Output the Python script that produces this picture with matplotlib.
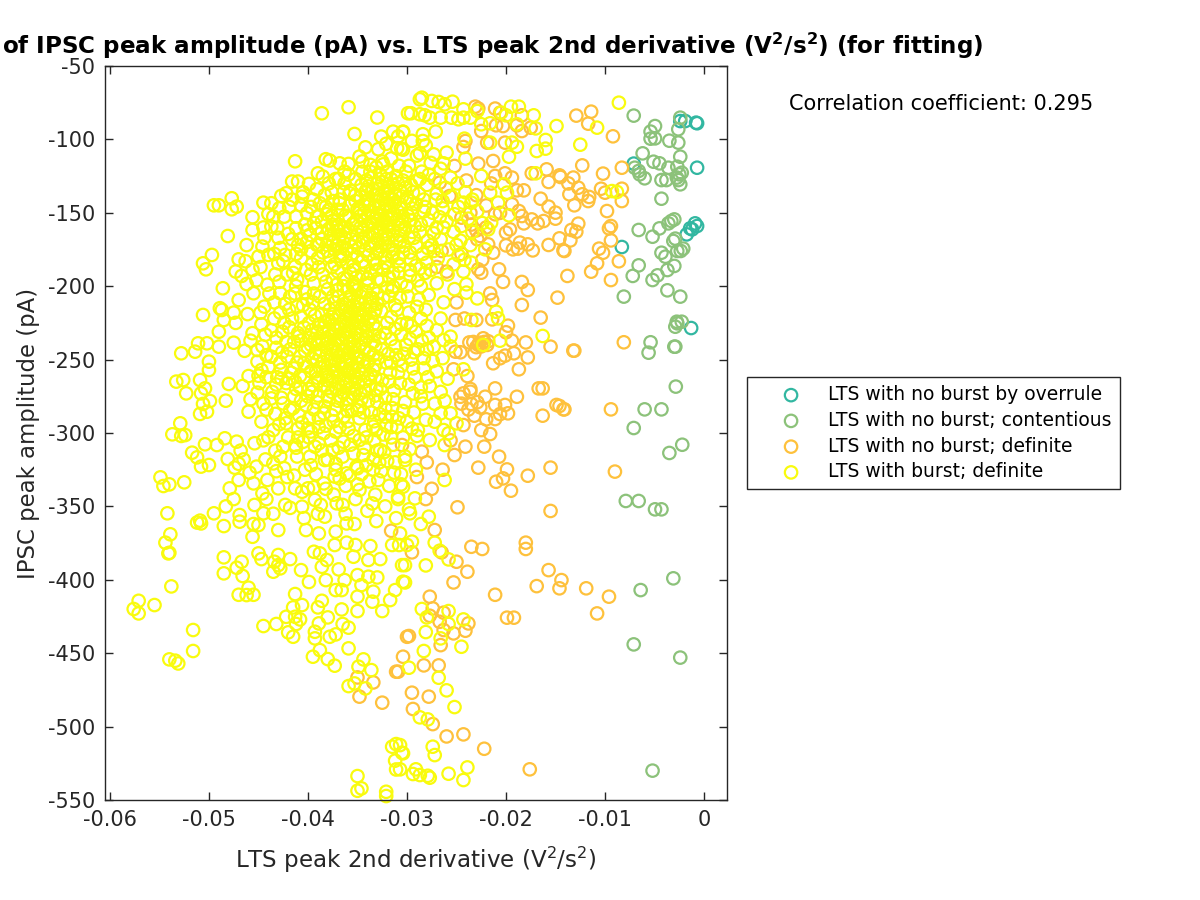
import numpy as np
import matplotlib
matplotlib.use("Agg")
import matplotlib.pyplot as plt

# points are (x * 1000, y)
overrule_pts = [(-2.4,-87.5),(-1.9,-87.5),(-0.8,-88.6),(-0.7,-89),(-0.7,-119.3),(-7.1,-116.5),(-8.3,-173.3),
    (-1.75,-164.7),(-1.4,-160.6),(-0.9,-157.2),(-0.7,-159),(-1.2,-161.3),(-1.3,-228.5)]

contentious_pts = [(-7.1,-83.8),(-2.4,-85.2),(-4.95,-90.9),(-2.6,-93.1),(-5.4,-94.7),(-5.4,-99.5),(-4.95,-99.3),
    (-3.5,-100.9),(-2.6,-102.2),(-6.2,-109.5),(-2.4,-111.8),(-5.1,-115.2),(-4.5,-116.3),(-3.6,-119.3),(-2.7,-118.6),
    (-7.0,-119.3),(-6.6,-121.5),(-6.5,-123.8),(-6.0,-126.5),(-4.3,-127.7),(-3.8,-127.7),(-2.25,-122.7),(-2.5,-123.8),
    (-2.75,-126),(-2.6,-127.7),(-2.4,-130.6),(-4.3,-140.4),(-3.0,-154.5),(-3.3,-155.6),(-3.6,-157.2),(-4.5,-160.6),
    (-6.6,-161.7),(-5.2,-166.3),(-2.9,-167.6),(-3.1,-169.2),(-2.1,-174.4),(-2.7,-176),(-2.35,-176),(-4.3,-177.2),
    (-3.9,-179.9),(-3.0,-186.2),(-6.6,-185.8),(-3.7,-189),(-4.7,-192.6),(-5.2,-195.8),(-7.2,-193),(-3.7,-202.8),
    (-2.4,-207.1),(-8.1,-207.1),(-2.25,-224.2),(-2.75,-224.2),(-2.7,-225.3),(-2.9,-227.6),(-5.4,-238.2),(-5.6,-245.3),
    (-2.9,-241.2),(-3.0,-241.2),(-2.85,-268.4),(-6.0,-283.9),(-4.3,-283.9),(-7.1,-296.6),(-2.2,-308),(-3.5,-313.6),
    (-7.9,-346.3),(-6.6,-346.3),(-4.95,-352),(-4.3,-352),(-6.4,-407),(-3.1,-399),(-7.1,-444),(-2.4,-453),(-5.2,-530)]

definite_pts = [(-11.4,-81.1),(-12.9,-83.8),(-11.7,-89.3),(-9.2,-97.9),(-12.3,-117.7),(-8.3,-119.3),(-10.2,-123.3),
    (-14.5,-125.6),(-13.2,-126),(-13.7,-130),(-12.7,-132.9),(-13.6,-137.4),(-10.4,-133.6),(-10,-136.3),(-8.3,-133.6),
    (-8.3,-142),(-12.3,-137.4),(-11.6,-139.2),(-11.7,-142),(-13.1,-144.9),(-9.8,-148.8),(-9.4,-159),(-9.6,-160.6),
    (-12.7,-157.4),(-13.4,-161.7),(-12.9,-162.9),(-13.5,-168.8),(-9.4,-168.8),(-10.6,-174.4),(-10.2,-177.2),(-14.1,-176),
    (-10.8,-184.4),(-8.6,-183),(-11.4,-190.1),(-13.8,-193),(-9.4,-195.8),(-13.2,-243.9),(-8.1,-238.2),(-9.4,-283.9),
    (-14.1,-283.9),(-14.6,-281.6),(-9.0,-326.3),
    (-23.1,-77.7),(-22.8,-79),(-21.1,-79),(-20.6,-81.8),(-18.4,-83.6),(-18.9,-90.4),(-20.3,-90.9),(-21,-90.4),
    (-22.5,-94.3),(-18.4,-94.3),(-17.5,-92),(-24.1,-101.1),(-24.3,-105.2),(-21.9,-102.2),(-20.1,-102.2),(-21.3,-114.7),
    (-22.8,-116.5),(-15.9,-120.4),(-14.6,-124.5),(-17.4,-123.1),(-15.7,-129),(-20.1,-123.1),(-19.4,-126),(-21.1,-124.9),
    (-18.2,-134.7),(-18.9,-134.7),(-16.5,-140.4),(-15.7,-145.8),(-19.4,-144.2),(-18.7,-148.8),(-18.4,-152.2),(-18.2,-157.2),
    (-17.4,-154.5),(-16.8,-157.2),(-16.2,-155.6),(-15,-149.9),(-15,-154),(-21.1,-151),(-20.6,-150),(-19.6,-161.3),
    (-20,-163.5),(-20,-172.2),(-18.6,-170.3),(-17.8,-171.5),(-19.3,-174.9),(-18.8,-174.4),(-17.3,-175.6),(-15.7,-171.9),
    (-14.6,-167.4),(-14.2,-175.6),(-21.3,-177.2),(-21.8,-171.5),(-20.7,-188.5),(-20.3,-197.1),(-18.4,-197.1),(-17.8,-202.6),
    (-22.5,-190.8),(-22.8,-188.5),(-27,-186.9),(-21.6,-204.9),(-14.8,-207.8),(-22.6,-165.8),(-22.9,-168),(-24.5,-153.3),
    (-25.7,-138.6),(-25.2,-118.1),(-26.7,-129.5),
    (-18.4,-212.8),(-16.5,-221.4),(-15.5,-241.2),(-13.1,-243.9),(-18,-238.3),(-19.4,-237.1),(-19.8,-226.9),(-20,-231.4),
    (-21.4,-222.6),(-21.4,-209.4),(-23,-223),(-25.1,-223),(-19.2,-245.7),(-17.8,-248.5),(-18.7,-256.6),(-20.1,-247.3),
    (-20.6,-249.1),(-21.3,-252.5),(-23.2,-245.7),(-23.7,-238.3),(-22.8,-240),(-22.3,-235.5),(-21.9,-240),(-24.6,-245),
    (-25.1,-244.6),(-25.3,-256.6),(-23.9,-261.2),(-21.1,-269.6),(-18.9,-275.3),(-16.7,-269.6),(-16.3,-269.6),(-14.9,-280.9),
    (-14.2,-283.9),(-16.3,-288.2),(-22.1,-275.3),(-23.6,-271.9),(-24.3,-273),(-24.6,-275.3),(-23.5,-280.3),(-22.6,-282.5),
    (-21.1,-280.9),(-20.1,-280.9),(-19.8,-286.6),(-20.6,-287.1),(-21.1,-290.5),(-23.2,-288.2),(-22,-290.7),(-24.3,-294.6),
    (-22.5,-298),(-21.6,-300.7),(-24.1,-309.3),(-22.2,-309.3),(-20.7,-316.1),(-22.8,-323.6),(-19.9,-324.8),(-20.3,-330.9),
    (-21,-333.2),(-19.5,-339.3),(-17.8,-329.1),(-15.5,-323.6),(-15.5,-353.1),(-24.9,-350.6),(-28.1,-345),(-28.5,-312.7),
    (-30.5,-308.2),
    (-23.5,-377.5),(-22.4,-379),(-18,-374.7),(-18,-379),(-25,-387.7),(-23.9,-394.5),(-25.3,-401.8),(-15.7,-393.4),
    (-14.4,-400.2),(-16.9,-404.3),(-14.6,-405.8),(-11.9,-405.8),(-9.6,-411.5),(-10.8,-422.9),(-21.1,-410.2),(-19.9,-425.8),
    (-19.2,-425.8),(-27.7,-411.5),(-27.4,-419.5),(-26.3,-422.4),(-27.7,-424.5),(-26.7,-428.6),(-23.8,-429.7),(-24.1,-434.7),
    (-25.3,-436.5),(-26.3,-434.2),(-29.8,-438.3),(-26.6,-444.5),(-30.4,-452.4),(-28.3,-458.3),(-26.8,-458.3),(-30.9,-462.6),
    (-29.5,-476.9),(-27.8,-479.6),(-29.4,-488),(-27.4,-498.3),(-26,-506.7),(-24.3,-505.3),(-22.2,-515.1),(-17.6,-529.1),
    (-27.2,-366.1),(-29.5,-381.3),(-26.5,-381.3),
    (-31.6,-366.6),(-35,-466.5),(-34.8,-479.6),(-33.4,-469.9),(-32.5,-483.7),(-31.1,-462.6),(-30,-438.8),
    (-23.3,-238),(-22.7,-238.5),(-22.2,-238),(-22.5,-241),(-23,-241.5),(-21.8,-237.5),(-23.5,-158),(-23,-162),(-22,-145),
    (-23,-138),(-24,-128),(-21.5,-130),(-22,-160),(-23.6,-150),(-24.5,-178),(-22.4,-182),(-26,-190),(-26.5,-176),(-25,-211),
    (-24.2,-222),(-23.6,-270),(-24.5,-280),(-23.8,-284),(-22.9,-279),(-25.6,-305),(-25.2,-315),(-26.4,-325),(-27.5,-338),
    (-28,-320),(-29,-330)]

burst_pts = [(-14.9,-90.9),(-12.5,-103.6),(-10.8,-92),(-8.6,-75),(-9.3,-135.2),(-8.8,-135.8),
    (-28.5,-71.6),(-28.7,-72.7),(-27.5,-73.8),(-26.8,-74.5),(-26.2,-76.1),(-25.4,-74.3),(-29.6,-82.2),(-28.7,-82.9),
    (-28.2,-83.6),(-27.7,-85.2),(-26.6,-85.2),(-25.5,-85.2),(-24.3,-79.5),(-24.3,-85.2),(-24.8,-86.3),(-23.6,-85.2),
    (-22.9,-80.7),(-22.5,-89.7),(-21.6,-89),(-20.5,-81.8),(-20,-83.6),(-19.5,-77.7),(-18.7,-77.7),(-18.9,-89.7),
    (-17.2,-83.6),(-17,-92.5),(-16,-100.4),(-16,-106.3),(-16.9,-107.9),(-18.9,-105),(-19.4,-102.2),(-19.7,-111.8),
    (-21.6,-102.2),(-24.2,-99.5),(-24.1,-113.1),(-26,-109),(-27.1,-94.7),(-28.4,-96.5),(-28.4,-101.1),(-30.4,-95),
    (-28.7,-109.5),(-27.3,-110.2),(-26.3,-116.3),(-30.6,-106.3),(-17,-123.1),(-19.9,-136.3),(-20.2,-130.6),(-20.8,-143.1),
    (-19.7,-151.7),(-22.5,-124.9),(-21.6,-136.3),(-23.5,-143.1),(-24.3,-143.1),(-21.5,-156.7),(-21.8,-161.3),(-22.1,-174.9),
    (-24,-198.7),(-23.5,-184),(-25.3,-185.1),(-24,-204.4),
    (-16.3,-233.9),(-20.6,-237.1),(-22.3,-240),(-21,-217.4),(-20.8,-221.9),(-23.5,-223),(-22.9,-208.3),(-24.3,-256.6),
    (-26.3,-236.7),(-27.3,-241.2),(-26.2,-308.2),(-26.2,-332),(-27.7,-304.8),(-29.2,-344.5),(-27.8,-357),(-25.6,-234.4),
    (-25.8,-300.2),(-26.3,-298),(-25,-293.4),(-27.2,-292.3),(-25.6,-286.6),(-26.6,-286.6),(-28.9,-298),(-30.2,-318.4),
    (-30.4,-336.6),(-29.7,-354.7),
    (-27.2,-374.7),(-26.7,-380.2),(-25.8,-386.1),(-28.1,-390.2),(-30.2,-390),(-30.2,-401.8),(-28.5,-419.9),(-28,-425.6),
    (-25.8,-421.3),(-25.8,-430.1),(-24.3,-427),(-28.1,-435.6),(-26.6,-439.9),(-24.5,-445.6),(-28.3,-448.5),(-29.8,-459.9),
    (-26.8,-466.7),(-26,-475.3),(-25.2,-486.7),(-28.7,-493.7),(-27.9,-495.1),(-27.4,-513.7),(-27.2,-519.4),(-30.5,-517.8),
    (-30.7,-512.6),(-29.1,-529.1),(-29.4,-532.3),(-28.7,-533),(-27.9,-533.5),(-27.7,-534.8),(-25.8,-532.1),(-23.9,-527.8),
    (-24.3,-536.4),(-30.7,-529.1),(-29.5,-374),(-30,-376.3),(-30.7,-368.4),
    (-53.9,-369),(-54.4,-374.7),(-54.1,-382),(-54,-381.6),(-53.8,-404.5),(-57.1,-414.3),(-57.6,-419.9),(-57.1,-422.9),
    (-55.5,-417.2),(-51.6,-434.2),(-51.6,-448.5),(-54,-454.2),(-53.4,-455.1),(-53.1,-457),(-48.5,-384.7),(-48.5,-395.6),
    (-47.2,-391.8),(-46.7,-387.7),(-46.6,-397.4),(-47,-410.2),(-46,-405.4),(-46.2,-410.4),(-45.5,-410.2),(-45,-382),
    (-44.7,-385.9),(-43,-383.1),(-43.4,-387.7),(-43,-390),(-43.5,-394.5),(-42.8,-392.2),(-41.8,-385.9),(-40.7,-393.4),
    (-39.9,-401.5),(-38.2,-400.2),(-39.4,-380.9),(-38.8,-382),(-38.1,-386.5),(-38.6,-391.1),(-36.9,-392.9),(-41.3,-409.7),
    (-40.6,-417.2),(-41.5,-418.8),(-39,-418.8),(-38.6,-414.3),(-42.2,-425.2),(-41.3,-425.2),(-40.8,-427),(-41.2,-430.1),
    (-44.5,-431.5),(-43.2,-430.1),(-42,-435.8),(-41.5,-438.8),(-38,-425.6),(-38.9,-429.7),(-39.3,-435.4),(-39.3,-439.9),
    (-37.8,-438.8),(-37.2,-437.2),(-35.9,-432.6),(-36.5,-430.1),(-36.6,-420.2),(-35,-421.3),(-32.5,-421.3),(-31.7,-413.8),
    (-31.2,-407),(-33.5,-414.9),(-33.4,-408.1),(-35,-411.5),(-36.6,-407),(-37.2,-407),(-36.3,-400.2),(-35,-396.8),
    (-33.9,-397.9),(-33,-398.4),(-34.6,-403.6),(-35.4,-384.3),(-33.9,-386.5),(-32.7,-385.9),(-35.2,-376.3),(-33.7,-377),
    (-36.1,-374.7),(-37.3,-376.3),(-38.8,-447.9),(-39.5,-452.4),(-38,-454),(-37.3,-458.5),(-35.9,-446.7),(-34.4,-454.2),
    (-34.9,-459.2),(-33.6,-461.5),(-35.9,-472.4),(-35.3,-470.6),(-34.2,-474),(-31.5,-513.7),(-31.1,-511.9),(-31.2,-523.2),
    (-31.1,-529.2),(-30.4,-518.2),(-35,-533.7),(-34.6,-542.1),(-35,-543.7),(-32.1,-544.4),(-32.1,-547.3),(-48.5,-363.4),
    (-50.8,-361.6),(-51.2,-361),(-46.9,-360.4),(-45.6,-370.7),(-45,-362.7),(-43,-366.1),(-40.2,-366.1),(-38.9,-368.4),
    (-37.2,-367.2),(-36.1,-361.6),(-30.5,-390),(-30.4,-401.3),(-30.8,-376.3),(-31.5,-376.3),
    (-50.6,-219.6),(-48.7,-216.2),(-48.5,-223),(-49,-231),(-47.5,-238.5),(-52.8,-245.7),(-51.4,-244.6),(-51.1,-238.9),
    (-50.2,-238.9),(-49,-241.2),(-50,-251.4),(-50,-257.1),(-53.3,-265),(-52.6,-263.9),(-52.3,-273),(-50.9,-263.9),
    (-50.4,-269.6),(-50.8,-273),(-48,-266.6),(-48.3,-278),(-49.9,-278.2),(-50.6,-280.2),(-50.9,-287),(-50.2,-285.5),
    (-52.9,-293.4),(-53.7,-300.9),(-52.8,-302),(-52.4,-301.4),(-50.4,-307.7),(-51.7,-313.4),(-51.2,-316.6),(-50.8,-322.9),
    (-50,-321.8),(-49.2,-308.2),(-48.4,-303.6),(-47.2,-305.9),(-46.8,-312),(-48.1,-317.7),(-47.4,-323.6),(-54.9,-330.2),
    (-54.6,-336.1),(-54,-335),(-52.5,-333.6),(-47.9,-337.7),(-47,-332),(-45.5,-334.3),(-44.6,-341.1),(-44.1,-332),
    (-43,-337.7),(-41.3,-337.7),(-40,-337.7),(-38.4,-334.3),(-42.3,-349),(-40.6,-350.2),(-39.3,-345.6),(-37.1,-347.9),
    (-34.8,-338.8),(-30.9,-343.4),(-54.2,-354.7),(-50.9,-359.7),(-49.5,-354.7),(-46.9,-355.9),(-45.4,-349),(-44.5,-354.7),
    (-45.8,-237.1),(-45.1,-243.5),(-45.1,-251.4),(-46,-261.2),(-44.7,-257.1),(-45.1,-272.5),(-46,-285.5),(-44.7,-292.3),
    (-43.7,-276.4),(-43.5,-298),(-44,-302.9),(-45.4,-307),(-45.2,-322.9),(-43.5,-320.7),(-42.5,-309.3),(-41.3,-308.2),
    (-39.8,-316.1),(-39.3,-309.3),(-38.3,-318.4),(-36.5,-316.1),(-37.5,-311.6),(-36.1,-327.5),(-37.3,-329.7),(-35.1,-322.9),
    (-32.9,-332),(-42.2,-293.4),(-40,-296.8),(-38.4,-300.2),(-36.4,-288.9),(-35,-284.3),(-41.8,-284.3),(-42.5,-279.8),
    (-38.4,-286.6),(-33.4,-295.7),(-32.2,-288.9),(-31,-295.7),(-34.8,-304.8),(-32.7,-311.6),
    (-38.6,-82.2),(-35.9,-78.1),(-33,-85.1),(-35.3,-96.3),(-29.9,-82.2),(-34.2,-105.4),(-31.4,-94.7),(-30.4,-94.7),
    (-32.6,-98.1),(-31,-106),(-32.9,-106.7),(-41.3,-114.9),(-38.2,-113.5),(-37.8,-114.4),(-36.8,-116.3),(-35.9,-116.7),
    (-34.8,-111.7),(-33.7,-117.4),(-32.5,-115.1),(-39,-123.1),(-38.5,-125.3),(-37.9,-129.9),(-41.6,-128.7),(-41,-128.7),
    (-39.9,-130.3),(-42.7,-138.5),(-42.2,-136.7),(-44.5,-143.1),(-43.7,-143.5),(-40.6,-139),(-47.7,-140.1),(-49.5,-144.9),
    (-49,-144.9),(-47.7,-147.6),(-47.2,-145.8),(-45.6,-161.7),(-48.1,-165.8),(-44,-150.8),(-43.5,-152.6),(-42.4,-152.6),
    (-43.7,-159.4),(-43.1,-160.5),(-42,-164.4),(-41.2,-160.5),(-40.7,-167.8),(-39.2,-160.5),(-41.2,-152.6),(-40.1,-150.3),
    (-38.8,-143.5),(-39.1,-152.6),(-37.1,-159.4),(-37.6,-159.4),(-35.8,-136.7),(-36.8,-143.5),(-34.8,-148),(-35.4,-157.1),
    (-34.1,-134.4),(-32.7,-139),(-33.4,-157.1),(-49.7,-178.7),(-50.6,-184.4),(-50.3,-188.5),(-47,-181.7),(-47.3,-190),
    (-48.6,-201.4),(-47,-209.4),(-48.9,-215),(-46.2,-198.5),(-45.6,-188.9),(-45,-179.8),(-44,-178.7),(-45.5,-204.8),
    (-44.4,-213.9),(-43,-184.4),(-42.3,-178.7),(-41.3,-186.6),(-41.1,-195.7),(-39.1,-171.9),(-38.1,-171.9),(-40.2,-188.9),
    (-39.4,-198),(-36.7,-179.8),(-36.4,-194.6),(-42.8,-204.8),(-41.8,-207.1),(-38.8,-207.1),(-37.5,-207.1),(-35.4,-188.9),
    (-33.7,-191.2),(-32.4,-188.9),(-31.4,-200.3),(-35.4,-200.3),(-33.4,-202.5),(-29.7,-188.9),(-31.4,-177.6),(-32.7,-173)]

burst_dense_mid = [(-35.1,-203),(-34.6,-207),(-35.8,-209),(-34.2,-211),(-36.3,-212),(-35.4,-213),(-33.7,-214),(-34.9,-216),(-36.7,-216),
    (-35.9,-218),(-33.3,-218),(-37.4,-219),(-34.4,-220),(-36.1,-222),(-35.2,-223),(-37.9,-223),(-33.9,-224),(-36.8,-226),
    (-35.6,-227),(-34.7,-228),(-38.4,-228),(-37.2,-230),(-33.1,-229),(-36.2,-231),(-35.1,-232),(-39.1,-232),(-37.8,-234),
    (-34.1,-234),(-36.6,-236),(-35.5,-237),(-38.6,-237),(-33.4,-238),(-37.3,-239),(-39.7,-240),(-36.1,-241),(-34.8,-241),
    (-38.1,-242),(-35.7,-243),(-40.3,-244),(-37.1,-245),(-33.8,-245),(-36.4,-247),(-38.8,-247),(-35.1,-248),(-39.6,-249),
    (-37.7,-250),(-34.4,-250),(-36.9,-252),(-41.1,-252),(-35.6,-253),(-38.3,-254),(-33.2,-254),(-40.1,-255),(-36.3,-256),
    (-37.4,-257),(-34.9,-257),(-39.2,-258),(-35.8,-259),(-41.7,-259),(-38.1,-260),(-36.8,-261),(-33.7,-260),(-40.4,-262),
    (-35.2,-263),(-37.6,-264),(-39,-265),(-34.3,-265),(-36.2,-266),(-42.2,-266),(-38.4,-268),(-35.6,-269),(-40.8,-269),
    (-37.1,-270),(-33.1,-270),(-39.6,-272),(-36.4,-273),(-34.7,-273),(-38,-275),(-41.4,-275),(-35.5,-276),(-37,-278),
    (-39.1,-279),(-33.9,-278),(-36.1,-280),(-40.2,-281),(-38.3,-282),(-34.8,-282),(-37.3,-284),(-35.6,-285),
    (-32.4,-208),(-31.2,-213),(-29.8,-218),(-28.6,-222),(-32,-225),(-30.6,-226),(-29.1,-231),(-27.8,-235),(-31.6,-236),
    (-30.1,-240),(-32.6,-243),(-28.9,-243),(-31.1,-247),(-29.6,-250),(-27.4,-251),(-32.1,-252),(-30.5,-254),(-28.3,-256),
    (-31.7,-259),(-29.2,-262),(-32.5,-264),(-30.7,-266),(-27.7,-268),(-31.3,-271),(-29.4,-273),(-32.2,-276),(-30.2,-279),
    (-28.4,-280),(-31.5,-283),(-29.3,-286),(-32.8,-287),(-30.8,-290),(-28.1,-291),(-33.3,-292),(-31.6,-296),(-29.5,-297),
    (-34.2,-298),(-32.4,-301),(-30.4,-303),(-35.4,-302),(-33.3,-305),(-31.4,-308),(-36.4,-306),(-34.3,-310),(-32.3,-313),
    (-29.7,-311),(-35.4,-314),(-33.4,-318),(-31.2,-320),(-37.2,-321),(-35,-324),(-32.6,-326),(-30.6,-328),(-29.1,-325),
    (-33.8,-333),(-31.8,-336),(-36.2,-336),(-30.9,-345),(-33.2,-342),(-35.2,-345),(-37.4,-342),(-32.2,-350),(-29.8,-352),
    (-34,-353),(-36.2,-355),(-38.3,-357),(-40.4,-358),(-31.1,-358),(-33.1,-360),(-35.3,-362),(-28.6,-362),
    (-35.3,-200),(-36,-203),(-34.1,-204),(-35.6,-206),(-36.9,-207),(-33.5,-208),(-35,-210),(-37.3,-211),(-34.7,-212),
    (-36.5,-214),(-35.7,-215),(-34.2,-216),(-37.8,-216),(-33.2,-216),(-36.2,-217),(-35,-219),(-38.6,-219),(-36.9,-220),
    (-34.6,-221),(-37.6,-221),(-35.7,-221),(-33.6,-221),(-36.4,-224),(-38.3,-224),(-34.9,-224),(-35.5,-225),(-37.4,-226),
    (-33.4,-226),(-36.1,-227),(-38.9,-226),(-34.3,-227),(-37,-228),(-35.2,-229),(-36.7,-229),(-39.6,-230),(-37.9,-229.5),
    (-34,-230.5),(-35.8,-231),(-38.5,-231.5),(-36.5,-233),(-34.7,-233),(-37.5,-232.5),(-33.3,-233.5),(-35.3,-235),
    (-38.1,-235.5),(-36.1,-235),(-39.3,-236),(-34.2,-236.5),(-37,-236.5),(-35.8,-238.5),(-38,-238.5),(-36.6,-239),
    (-34.6,-239),(-39.1,-239.5),(-33.2,-240.5),(-37.5,-241),(-35.3,-241.5),(-40,-242),(-36.5,-243),(-38.7,-243.5),
    (-34.3,-243),(-37.5,-244),(-35.4,-245),(-39.3,-245.5),(-36,-245.5),(-33.4,-247),(-38.1,-247),(-36.9,-248),
    (-34.8,-248.5),(-35.8,-249.5),(-37.3,-250.5),(-39.1,-251),(-33.9,-251.5),(-36.2,-252),(-38.5,-252),(-35,-252.5),
    (-40.4,-252.5),(-37.6,-254),(-34.3,-254.5),(-36.6,-255),(-35.5,-255.5),(-38.8,-255.5),(-33.4,-257),(-37.1,-258),
    (-39.7,-258),(-36,-258.5),(-34.6,-259.5),(-38.2,-258.5),(-35.3,-261),(-37.5,-261.5),(-40.8,-261),(-33.9,-262.5),
    (-36.4,-263),(-39,-262.5),(-38.1,-264),(-35.7,-265),(-34.9,-266),(-37,-266.5),(-36.4,-268.5),(-39.5,-267.5),
    (-33.7,-268),(-38,-269.5),(-35.1,-270.5),(-37.6,-272),(-34.2,-271.5),(-36.7,-275),(-39,-274.5),(-35.3,-273.5),
    (-33.2,-274.5),(-37.9,-277.5),(-36,-277),(-34.6,-277)]

burst_dense_top = [(-33.1,-119),(-32,-122),(-34.5,-122),(-31.1,-125),(-33.6,-126),(-35.2,-127),(-30.4,-128),(-32.5,-129),(-36.3,-130),
    (-31.4,-131),(-33.9,-132),(-29.6,-131),(-32.9,-134),(-35.7,-135),(-30.7,-135),(-37.6,-136),(-31.9,-137),(-33.3,-138),
    (-28.8,-137),(-34.7,-139),(-30,-140),(-36.8,-141),(-32.4,-141),(-31.2,-143),(-33.8,-144),(-29.1,-144),(-35.8,-145),
    (-32.8,-146),(-30.6,-147),(-37.9,-148),(-31.8,-149),(-34.3,-150),(-28.3,-149),(-33,-151),(-36.2,-152),(-29.9,-152),
    (-31.4,-153),(-32.3,-155),(-35.1,-155),(-38.6,-156),(-30.5,-156),(-33.6,-157),(-27.8,-155),(-36.9,-158),(-31.8,-159),
    (-29.2,-159),(-34.7,-160),(-32.7,-161),(-35.8,-163),(-30.6,-162),(-33.5,-164),(-37.7,-165),(-28.7,-163),(-31.4,-165),
    (-36.3,-167),(-34.4,-167),(-32.4,-168),(-29.8,-167),(-35.2,-170),(-30.7,-170),(-33.2,-171),(-37.1,-172),(-27.9,-169),
    (-31.8,-173),(-34.9,-174),(-36.1,-175),(-29,-173),(-32.9,-176),(-35.6,-178),(-30.4,-177),(-33.9,-179),(-37.8,-180),
    (-31.5,-180),(-28.4,-178),(-36.7,-182),(-34.5,-183),(-29.6,-182),(-32.2,-184),(-35.4,-186),(-30.8,-186),(-38.9,-187),
    (-33.1,-189),(-37,-190),(-28.7,-188),(-31.4,-191),(-34.5,-192),(-36.1,-195),(-29.7,-193),(-32.6,-196),(-38.2,-197),
    (-30.6,-198),(-33.9,-198),(-35.5,-199),(-37.1,-203),(-31.5,-203),(-39.4,-205),(-28.6,-200),(-33,-205),(-38.3,-212),
    (-40.5,-213),(-29.9,-207),(-39.3,-220),(-41.6,-222),(-40.4,-228),(-42.6,-231),(-41.4,-238),(-43.2,-242),(-42.1,-248),
    (-44,-255),(-43.1,-262),(-41.9,-216),(-43.4,-222),(-44.3,-233),(-44.9,-266),(-43.6,-272),(-42.3,-290),(-41,-297),
    (-44.5,-280),(-37.4,-292),(-38.9,-290),(-39.9,-303),(-37.7,-305),(-41.2,-310),(-38.6,-312),
    (-30.9,-98),(-29.5,-101),(-32.1,-103),(-28.1,-104),(-30.4,-107),(-29,-111),(-31.6,-113),(-27.6,-116),(-29.8,-118),
    (-26.6,-120),(-28.5,-122),(-25.6,-126),(-27.2,-127),(-24.9,-130),(-26.1,-133),(-28,-131),(-24.1,-136),(-25.5,-139),
    (-27.1,-141),(-23.4,-141),(-24.8,-146),(-26.4,-147),(-22.9,-149),(-25.2,-151),(-27.4,-150),(-23.8,-154),(-26,-156),
    (-24.5,-159),(-22.4,-157),(-27,-160),(-25.3,-163),(-23.4,-163),(-26.6,-168),(-24.6,-169),(-27.5,-172),(-25.8,-175),
    (-23.6,-172),(-26.9,-181),(-24.8,-179),(-27.6,-189),(-25.9,-192),(-24.3,-190),(-27,-198),(-25.2,-202),(-27.8,-206),
    (-26.3,-211),(-28.1,-216),(-26.6,-222),(-27,-230),(-25.6,-241),(-26.4,-249),(-27,-258),(-25.9,-263),(-26.6,-272),
    (-27.2,-280),(-26.2,-278),
    (-33.7,-122),(-32.7,-124),(-31.6,-127),(-34.1,-128),(-32.1,-127),(-33,-130),(-30.9,-130),(-34.6,-131),(-31.9,-132.5),
    (-33.4,-134),(-30.2,-133),(-32.2,-135),(-34.2,-136),(-31.2,-137),(-29.4,-136),(-33,-137.5),(-35.2,-138),(-31.9,-139.5),
    (-30.5,-139),(-33.9,-141),(-32.9,-142),(-31.4,-141),(-35.2,-142),(-29.7,-142),(-32.1,-144),(-30.7,-144),(-34.3,-145),
    (-33.3,-146),(-31.6,-146),(-29.5,-147),(-35,-147.5),(-32.4,-148.5),(-30.9,-149),(-33.8,-149),(-36.5,-148),(-31.3,-151),
    (-32.7,-151.5),(-34.7,-152),(-29.5,-150),(-30.4,-152.5),(-33.5,-153),(-35.8,-153),(-32,-153.5),(-31,-155),(-33,-155.5),
    (-34.3,-155.5),(-37.4,-155),(-29.6,-155),(-32.6,-157.5),(-30.9,-158),(-35.5,-158),(-33.9,-159),(-32,-160),(-28.6,-158),
    (-36.3,-160),(-30.2,-160),(-34.4,-162),(-33,-162.5),(-31.4,-162.5),(-37,-162),(-29.5,-163),(-32.2,-164.5),(-35,-165),
    (-33.8,-166),(-30.7,-165.5),(-36.7,-165),(-31.9,-167),(-33,-168),(-29.3,-167),(-35.6,-168),(-34.5,-170),(-31,-168.5),
    (-32.2,-171),(-36.4,-170.5),(-33.7,-172.5),(-30.3,-172.5),(-35.6,-173),(-31.4,-175),(-34.2,-176),(-37.3,-175),
    (-33.1,-177.5),(-36.5,-178),(-29.7,-177),(-35,-180),(-32.2,-179),(-33.4,-182),(-38.5,-177),(-30.8,-181),(-36,-184),
    (-34.2,-186),(-31.9,-187)]

burst_fill = [(-46.3,-183),(-44.8,-187),(-43.3,-192),(-46.7,-193),(-45.2,-196),(-42.1,-192),(-44.1,-199),(-41.2,-178),(-42.8,-174),
    (-46.1,-219),(-47.3,-225),(-44.7,-226),(-43.4,-211),(-45.6,-232),(-47.5,-218),(-46.4,-244),(-44.6,-241),(-43.7,-248),
    (-46.6,-268),(-45,-261),(-42.7,-257),(-45.8,-277),(-41.5,-283),(-43.3,-287),(-44.5,-305),(-43.3,-312),(-42.4,-324),
    (-41.4,-329),(-40.3,-325),(-40.6,-340),(-39.2,-328),(-44.2,-345),(-41.8,-351),(-43.5,-355),(-45.5,-362),(-47.5,-345),
    (-48.3,-350),(-39,-355),
    (-40.7,-175),(-39.7,-176),(-38.6,-168),(-37.5,-170),(-39.8,-165),(-38.9,-172),(-40.3,-158),(-37.9,-161),(-39.4,-157),
    (-36.6,-173),(-38.1,-151),(-37,-148),(-39.7,-146),(-38.3,-138),(-37.2,-127),(-36.3,-122),(-39.1,-134),(-40.7,-145),
    (-41.9,-146),(-41.6,-168),(-43,-167),(-44.4,-167),(-44.5,-160),(-45.6,-153),(-46.2,-172),(-42.5,-183),(-41.2,-200),
    (-40.3,-204),(-39.5,-211),(-42.9,-197),(-41.5,-191),(-40.7,-181),(-38.5,-192),(-37.5,-195),(-39.6,-185),(-37.3,-185),
    (-38,-202),(-36.4,-200),(-33,-195),(-31.8,-194),(-30,-200),(-28.9,-196),(-28,-184),(-27.3,-176),(-28.2,-146),(-27,-137),
    (-28.7,-127),(-30.1,-122),(-26.7,-153),(-26.3,-160),(-25,-172),(-24.2,-182),(-31,-216),(-30,-225),(-32.6,-217),
    (-31.6,-221),(-29,-214),(-28,-227),(-30.6,-233),(-32.2,-232),(-29.7,-236),(-31.2,-241),(-28.5,-237),(-32.9,-249),
    (-30.3,-246),(-28.3,-249),(-31.6,-252),(-29.4,-256),(-33.2,-262),(-30.9,-259),(-27.9,-262),(-31.8,-265),(-29.8,-267),
    (-28.6,-269),(-33,-279),(-31.4,-277),(-28.6,-275),(-32.2,-283),(-30.4,-285),(-33.6,-286),(-34.8,-290),(-36,-292),
    (-38.2,-295),(-39.9,-290),(-40.9,-288),(-41.2,-270),(-42.7,-276),(-43.2,-267),(-40,-275),(-41.9,-263),(-42.6,-245),
    (-40.7,-237),(-42.4,-225),(-41,-232),(-43.7,-230),(-44.8,-218),(-39.7,-299),(-42,-303),(-40.5,-306),(-37.2,-299),
    (-35.9,-297),(-34.1,-303),(-36.9,-310),(-38,-318),(-39.7,-322),(-37.2,-325),(-35.8,-329),(-34.4,-315),(-33,-312),
    (-31.6,-303),(-30.2,-316),(-32,-319),(-33.4,-325),(-34.6,-328),(-38.2,-338),(-36.8,-331),(-39.4,-337),(-42.1,-330),
    (-43.2,-326),(-41.1,-316),(-42.8,-316),(-44.3,-318),(-46.5,-318),(-45.9,-327),(-47,-321),
    (-41.3,-205),(-40.1,-209),(-41.1,-214),(-39.8,-216),(-40.7,-221),(-39.9,-225),(-41.9,-228),(-40.9,-234),(-39.9,-235),
    (-41.8,-243),(-40.8,-248),(-42.8,-252),(-41.4,-256),(-42.7,-263),(-41.3,-265),(-39.9,-270),(-40.7,-278),(-39.4,-284),
    (-40.6,-293),(-38.9,-296),(-37.6,-288),(-36.8,-296),(-36,-285),(-34.4,-286),(-33.1,-298),(-32.1,-295),(-31.5,-289),
    (-30,-292),(-29,-302),(-32.7,-270),(-31.9,-246),(-30.8,-250),(-29.3,-245),(-28,-243),(-31.2,-229),(-32.7,-235),
    (-29.6,-227),(-28.8,-209),(-30.7,-208),(-32,-201),(-33.7,-208),(-33,-212),(-31.8,-207),(-30.8,-191),(-29.1,-186),
    (-28.2,-191),(-27.3,-164),(-27.9,-174),(-26.4,-142),(-28.3,-141),(-27.8,-124),(-29,-128),(-30.8,-118),(-32.4,-117),
    (-34.5,-115),(-35.9,-124),(-36.9,-127),(-36.4,-136),(-37.5,-142),(-38.2,-146),(-37.6,-152),(-39.5,-141),(-40.5,-136),
    (-41.6,-141),(-42.9,-147),(-40.1,-162),(-41,-172),(-38,-176),(-39,-181),(-37.6,-187),(-39.7,-192),(-37.1,-199),
    (-35.1,-194),(-34,-195),(-35.7,-191),(-33.2,-185),(-36.9,-168),(-37.5,-158),(-38.6,-163),(-40.1,-170),(-43.4,-178),
    (-44.6,-173),(-43.9,-205),(-42.3,-212),(-42.8,-218),(-42.2,-238),(-43.2,-235),(-44.2,-247),(-44.2,-262),(-44.2,-284),
    (-42.9,-294),(-41,-303),(-38.9,-307),(-35.7,-308),(-34.1,-322),(-32.8,-320),(-31.3,-327),(-30.6,-335),(-35,-335),
    (-33.5,-348),(-36.5,-349),(-38.7,-349)]

group_labels = ["LTS with no burst by overrule", "LTS with no burst; contentious",
                "LTS with no burst; definite", "LTS with burst; definite"]
group_colors = ["#32b7a1", "#8cc27a", "#fec13c", "#f9fb0e"]
x_ticks = [-0.06, -0.05, -0.04, -0.03, -0.02, -0.01, 0]
x_tick_labels = ["-0.06", "-0.05", "-0.04", "-0.03", "-0.02", "-0.01", "0"]
y_ticks = [-50, -100, -150, -200, -250, -300, -350, -400, -450, -500, -550]
corr_coef = 0.295

W, H = 1200, 900
AX_DARK = "#262626"

fig = plt.figure(figsize=(W / 100, H / 100), dpi=100)
ax = fig.add_axes([105 / W, 1 - 800 / H, (727 - 105) / W, (800 - 66) / H])

groups = [overrule_pts, contentious_pts, definite_pts, burst_pts + burst_dense_mid + burst_dense_top + burst_fill]
for pts, label, color in zip(groups, group_labels, group_colors):
    arr = np.array(pts)
    ax.scatter(arr[:, 0] * 1e-3, arr[:, 1], s=80, facecolors="none", edgecolors=color,
               linewidths=1.6, label=label, clip_on=False)

ax.set_xlim(-0.0605, 0.00232)
ax.set_ylim(-550, -50)
ax.set_xticks(x_ticks)
ax.set_xticklabels(x_tick_labels)
ax.set_yticks(y_ticks)
ax.set_yticklabels([str(v) for v in y_ticks])
ax.tick_params(direction="in", top=True, right=True, length=6, width=1, color=AX_DARK,
               labelcolor=AX_DARK, labelsize=15, pad=7)
for spine in ax.spines.values():
    spine.set_color(AX_DARK)
    spine.set_linewidth(1)

ax.set_xlabel(r"LTS peak 2nd derivative (V$^2$/s$^2$)", fontsize=16.6, color=AX_DARK, labelpad=11)
ax.set_ylabel("IPSC peak amplitude (pA)", fontsize=16.4, color=AX_DARK, labelpad=6)

# title runs off the left edge in the reference, only the visible part is kept
fig.text(2 / W, 1 - 54 / H, r"of IPSC peak amplitude (pA) vs. LTS peak 2nd derivative ($\mathbf{V^2/s^2}$) (for fitting)",
         fontsize=16.55, fontweight="bold", color="black", ha="left", va="baseline")
fig.text(789 / W, 1 - 104 / H, f"Correlation coefficient: {corr_coef}", fontsize=15, color="black",
         ha="left", va="center")

leg = ax.legend(loc="upper left", bbox_to_anchor=(747 / W, 1 - 377 / H), bbox_transform=fig.transFigure,
                fontsize=13.5, frameon=True, fancybox=False, framealpha=1, edgecolor=AX_DARK,
                borderaxespad=0, borderpad=0.43, labelspacing=0.36, handletextpad=0.05, handlelength=3.84)
leg.get_frame().set_linewidth(1)

fig.savefig("out.png", dpi=100)
